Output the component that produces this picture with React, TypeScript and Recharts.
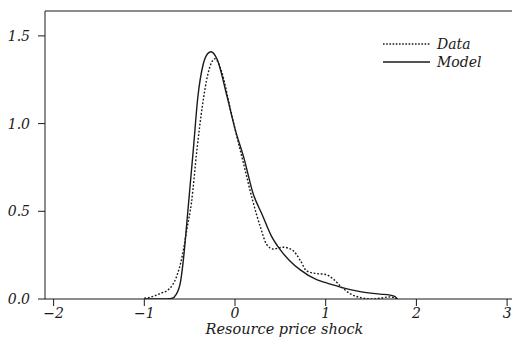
import { Line, LineChart, ReferenceLine, XAxis, YAxis } from "recharts";

const X_MIN = -2.095;
const X_MAX = 3.054;
const Y_MAX = 1.642;

const xTicks = [-2, -1, 0, 1, 2, 3];
const yTicks = [0, 0.5, 1.0, 1.5];

const dataX = [
  -1.0, -0.9, -0.83, -0.72, -0.65, -0.58, -0.53, -0.48, -0.42, -0.36, -0.3, -0.22, -0.15, -0.05, 0,
  0.1, 0.19, 0.28, 0.35, 0.42, 0.53, 0.63, 0.72, 0.79, 0.9, 1.0, 1.08, 1.17, 1.27, 1.4, 1.5, 1.6,
  1.71, 1.79
];
const dataY = [
  0.005, 0.015, 0.03, 0.06, 0.12, 0.25, 0.4, 0.55, 0.85, 1.1, 1.28, 1.37, 1.3, 1.08, 0.97,
  0.76, 0.57, 0.41, 0.31, 0.285, 0.295, 0.28, 0.22, 0.16, 0.145, 0.14, 0.115, 0.07, 0.03, 0.006, 0.0, 0.005,
  0.012, 0.0
];

const modelX = [
  -1.0, -0.8, -0.7, -0.65, -0.6, -0.57, -0.52, -0.46, -0.41, -0.35, -0.3, -0.265, -0.2, -0.09, 0,
  0.1, 0.2, 0.3, 0.4, 0.5, 0.6, 0.72, 0.9, 1.0, 1.16, 1.38, 1.6, 1.71, 1.76, 1.79
];
const modelY = [
  0, 0, 0.003, 0.025, 0.1, 0.22, 0.5, 0.85, 1.15, 1.34, 1.4, 1.41, 1.37, 1.16, 0.97,
  0.8, 0.6, 0.48, 0.36, 0.28, 0.22, 0.166, 0.11, 0.093, 0.068, 0.042, 0.028, 0.022, 0.015, 0.0
];

const dataSeries = dataX.map((x, i) => ({ x, y: dataY[i] }));
const modelSeries = modelX.map((x, i) => ({ x, y: modelY[i] }));

const INK = "#1a1a1a";
const FONT = "'DejaVu Serif', serif";

const fmt = (v: number) => String(v).replace("-", "\u2212");
const fmtY = (v: number) => v.toFixed(1);

// legend drawn as an overlay so it doesn't eat into the plot area
function LegendBox() {
  return (
    <svg width={120} height={40} style={{ position: "absolute", left: 380, top: 34, display: "block" }}>
      <line x1={3} x2={50} y1={10} y2={10} stroke={INK} strokeWidth={1.3} strokeDasharray="1.6 1.6" />
      <line x1={3} x2={50} y1={28} y2={28} stroke={INK} strokeWidth={1.4} />
      <text x={57} y={15} fontFamily={FONT} fontStyle="italic" fontSize={14} fill={INK}>Data</text>
      <text x={57} y={33} fontFamily={FONT} fontStyle="italic" fontSize={14} fill={INK}>Model</text>
    </svg>
  );
}

export default function App() {
  const tickStyle = { fontFamily: FONT, fontStyle: "italic", fontSize: 14, fill: INK };
  return (
    <div style={{ position: "absolute", left: 0, top: 0, width: 512, height: 341, background: "#fff" }}>
      <LineChart width={512} height={341} margin={{ top: 11, right: 0, left: 0, bottom: 0 }}>
        <XAxis
          dataKey="x"
          type="number"
          domain={[X_MIN, X_MAX]}
          ticks={xTicks}
          allowDataOverflow
          height={42}
          tickSize={7}
          tickMargin={2}
          tickFormatter={fmt}
          tick={tickStyle}
          stroke={INK}
          label={{
            content: ({ viewBox }: any) => (
              <text
                x={viewBox.x + viewBox.width / 2 + 6}
                y={viewBox.y + 35}
                textAnchor="middle"
                fontFamily={FONT}
                fontStyle="italic"
                fontSize={14.5}
                fill={INK}
              >
                Resource price shock
              </text>
            )
          }}
        />
        <YAxis
          type="number"
          domain={[0, Y_MAX]}
          ticks={yTicks}
          allowDataOverflow
          width={45}
          tickSize={7}
          tickMargin={8}
          tickFormatter={fmtY}
          tick={tickStyle}
          stroke={INK}
        />
        <ReferenceLine y={Y_MAX} stroke={INK} strokeWidth={1} />
        <Line
          data={dataSeries}
          dataKey="y"
          name="Data"
          type="monotone"
          stroke={INK}
          strokeWidth={1.4}
          strokeDasharray="1.8 1.8"
          dot={false}
          isAnimationActive={false}
        />
        <Line
          data={modelSeries}
          dataKey="y"
          name="Model"
          type="monotone"
          stroke={INK}
          strokeWidth={1.4}
          dot={false}
          isAnimationActive={false}
        />
      </LineChart>
      <LegendBox />
    </div>
  );
}
